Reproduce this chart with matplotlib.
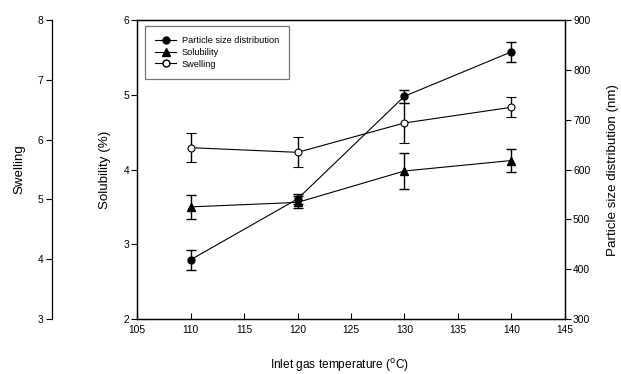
import matplotlib
matplotlib.use("Agg")
import matplotlib.pyplot as plt
from matplotlib.lines import Line2D

plt.rcParams['font.family'] = ['Liberation Sans', 'DejaVu Sans']

temperature = [110, 120, 130, 140]

particle_size = [419, 541, 747, 836]
particle_err = [20, 10, 13, 20]

solubility = [3.50, 3.56, 3.98, 4.12]
solubility_err = [0.16, 0.08, 0.24, 0.155]

swelling = [5.865, 5.787, 6.278, 6.54]
swelling_err = [0.245, 0.25, 0.34, 0.165]

x_ticks = [105, 110, 115, 120, 125, 130, 135, 140, 145]
sol_ticks = [2, 3, 4, 5, 6]
swell_ticks = [3, 4, 5, 6, 7, 8]
size_ticks = [300, 400, 500, 600, 700, 800, 900]

fig = plt.figure(figsize=(6.21, 3.74), dpi=100)
ax = fig.add_axes([137.3 / 621, 1 - 319 / 374, (564.7 - 137.3) / 621, 299 / 374])
ax_size = ax.twinx()
ax_swell = ax.twinx()

tick_fs = 7.4
ylabel_fs = 9.6
xlabel_fs = 8.6
lw = 0.8

# Solubility on the main left axis
ax.errorbar(temperature, solubility, yerr=solubility_err, color='black', lw=lw,
            marker='^', ms=5.5, mfc='black', mec='black', capsize=3.3,
            elinewidth=1.0, capthick=1.0, zorder=3)
ax.set_xlim(105, 145)
ax.set_ylim(2, 6)
ax.set_xticks(x_ticks)
ax.set_yticks(sol_ticks)
ax.tick_params(axis='x', direction='in', length=4, labelsize=tick_fs, pad=4, width=0.8)
ax.tick_params(axis='y', direction='out', length=4, labelsize=tick_fs, pad=2, width=0.8)
ax.set_ylabel('Solubility (%)', fontsize=ylabel_fs, labelpad=8.5)
ax.set_xlabel('Inlet gas temperature ($^{\\mathrm{o}}$C)', fontsize=xlabel_fs)
ax.xaxis.set_label_coords(0.474, -0.128)
for s in ax.spines.values():
    s.set_linewidth(0.9)

# Particle size on the right axis
ax_size.errorbar(temperature, particle_size, yerr=particle_err, color='black', lw=lw,
                 marker='o', ms=5, mfc='black', mec='black', capsize=3.3,
                 elinewidth=1.0, capthick=1.0, zorder=3)
ax_size.set_ylim(300, 900)
ax_size.set_yticks(size_ticks)
ax_size.tick_params(axis='y', direction='out', length=4, labelsize=tick_fs, pad=2, width=0.8)
ax_size.set_ylabel('Particle size distribution (nm)', fontsize=ylabel_fs, labelpad=12)
for s in ax_size.spines.values():
    s.set_linewidth(0.9)

# Swelling on an offset left axis
ax_swell.errorbar(temperature, swelling, yerr=swelling_err, color='black', lw=lw,
                  marker='o', ms=5, mfc='white', mec='black', mew=0.8, capsize=3.3,
                  elinewidth=1.0, capthick=1.0, zorder=3)
ax_swell.set_ylim(3, 8)
ax_swell.set_yticks(swell_ticks)
ax_swell.spines['left'].set_position(('axes', -0.2003))
ax_swell.spines['left'].set_visible(True)
ax_swell.spines['left'].set_linewidth(0.9)
for k in ('right', 'top', 'bottom'):
    ax_swell.spines[k].set_visible(False)
ax_swell.yaxis.set_ticks_position('left')
ax_swell.yaxis.set_label_position('left')
ax_swell.tick_params(axis='y', direction='out', length=4, labelsize=tick_fs, pad=2, width=0.8)
ax_swell.set_ylabel('Swelling', fontsize=ylabel_fs, labelpad=8.5)

handles = [
    Line2D([], [], color='black', lw=lw, marker='o', ms=5, mfc='black', mec='black'),
    Line2D([], [], color='black', lw=lw, marker='^', ms=5.5, mfc='black', mec='black'),
    Line2D([], [], color='black', lw=lw, marker='o', ms=5, mfc='white', mec='black'),
]
labels = ['Particle size distribution', 'Solubility', 'Swelling']
leg = ax_swell.legend(handles, labels, loc='upper left', bbox_to_anchor=(0.018, 0.98),
                      fontsize=6.6, frameon=True, fancybox=False, edgecolor='#555555',
                      handlelength=2.3, handletextpad=0.6, labelspacing=0.3,
                      borderpad=1.1, borderaxespad=0)
leg.get_frame().set_linewidth(0.9)

fig.savefig('out.png', dpi=100)
